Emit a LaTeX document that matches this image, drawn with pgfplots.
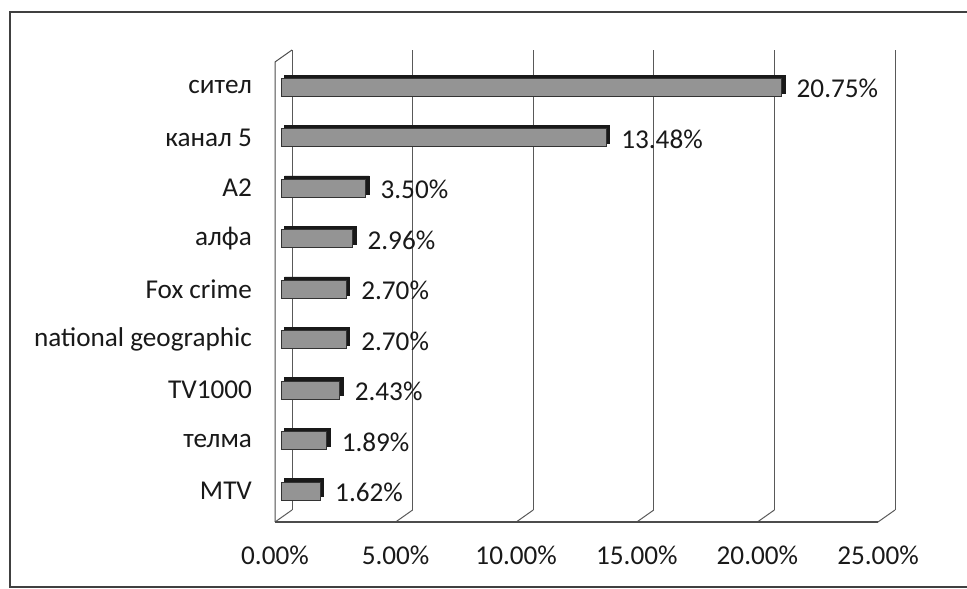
\documentclass[border=0pt]{standalone}
\usepackage{fontspec}
\setmainfont{Carlito}
\usepackage{pgfplots}
\usepackage{pgfplotstable}
\pgfplotsset{compat=1.18}
\pgfplotstableread{
y v
0 1.62
1 1.89
2 2.43
3 2.70
4 2.70
5 2.96
6 3.50
7 13.48
8 20.75
}\data
\begin{document}
\begin{tikzpicture}
\begin{scope}[x=0.5pt,y=0.5pt]
\useasboundingbox (0,0) rectangle (967,588);
\draw[black!75, line width=0.9pt] (975,576) -- (10,576) -- (10,1) -- (975,1);
\end{scope}
\begin{axis}[
  set layers,
  at={(137.5pt,33pt)}, anchor=south west,
  scale only axis, width=301.5pt, height=230pt,
  xmin=0, xmax=25, ymin=-0.614, ymax=8.5,
  axis line style={draw=none},
  tick style={draw=none},
  xtick={0,5,10,15,20,25},
  ytick={0,...,8},
  yticklabels={MTV,телма,TV1000,national geographic,Fox crime,алфа,A2,канал 5,сител},
  /pgf/number format/assume math mode=true,
  xticklabel={\pgfmathprintnumber[fixed,fixed zerofill,precision=2]{\tick}\%},
  ticklabel style={font=\fontsize{13.6}{15}\selectfont, text=black!90},
  yticklabel style={xshift=-8pt},
  xticklabel style={yshift=-8.5pt},
  clip=false,
]
\begin{pgfonlayer}{axis background}
\pgfplotsinvokeforeach{0,5,10,15,20,25}{
  \draw[black!65, line width=0.5pt] ([shift={(8.5pt,6pt)}]axis cs:#1,-0.614) -- ([shift={(8.5pt,6pt)}]axis cs:#1,8.5);
  \draw[black!65, line width=0.5pt] (axis cs:#1,-0.614) -- ([shift={(8.5pt,6pt)}]axis cs:#1,-0.614);
}
\draw[black!70, line width=0.7pt] (axis cs:0,-0.614) -- (axis cs:25,-0.614);
\draw[black!70, line width=0.5pt] (axis cs:0,-0.614) -- (axis cs:0,8.5) -- ([shift={(8.5pt,6pt)}]axis cs:0,8.5);
\end{pgfonlayer}
\addplot[xbar, bar width=9pt, fill=black!90, draw=black!90, bar shift=1.6pt, xshift=4.8pt, forget plot] table[x=v,y=y]{\data};
\addplot[xbar, bar width=9pt, fill=black!42, draw=black!80, line width=0.5pt, xshift=3pt,
  point meta=x,
  nodes near coords={\pgfmathprintnumber[fixed,fixed zerofill,precision=2]{\pgfplotspointmeta}\%},
  nodes near coords align={horizontal},
  every node near coord/.append style={font=\fontsize{13.6}{15}\selectfont, text=black!90, xshift=4pt, yshift=-0.8pt},
] table[x=v,y=y]{\data};
\end{axis}
\end{tikzpicture}
\end{document}
